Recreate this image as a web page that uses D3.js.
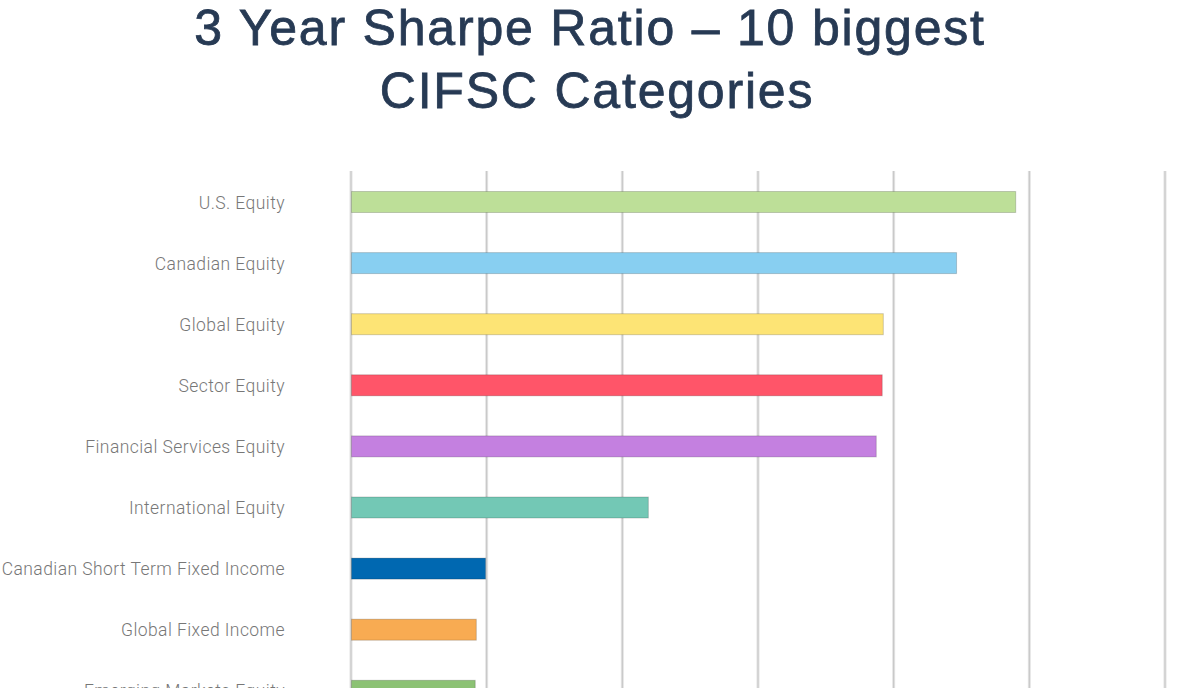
<!DOCTYPE html>
<html>
<head>
<meta charset="utf-8">
<script src="https://cdn.jsdelivr.net/npm/d3@7"></script>
<style>
  html, body { margin: 0; padding: 0; background: #fff; overflow: hidden; }
</style>
</head>
<body>
<div id="chart"></div>
<script>
var titleLines = ["3 Year Sharpe Ratio \u2013 10 biggest", "CIFSC Categories"];
var categories = ["U.S. Equity", "Canadian Equity", "Global Equity", "Sector Equity",
    "Financial Services Equity", "International Equity", "Canadian Short Term Fixed Income",
    "Global Fixed Income", "Emerging Markets Equity"];
var sharpeValues = [1.224, 1.115, 0.980, 0.978, 0.967, 0.547, 0.247, 0.230, 0.228];
var barColors = ["#bddf98", "#88cff1", "#fde475", "#ff5569", "#c480e0", "#73c8b5",
    "#0068b1", "#f8ab52", "#8cc274"];
var xTicks = [0, 0.25, 0.5, 0.75, 1, 1.25, 1.5];

var w = 1183;
var h = 760;

var svg = d3.select("#chart")
    .append("svg")
    .attr("width", w)
    .attr("height", h);

// title (second line sits a little right of centre in the original)
svg.selectAll(".title")
    .data(titleLines)
    .enter()
    .append("text")
    .attr("class", "title")
    .text(function(d) { return d; })
    .attr("x", function(d, i) { return 590 + i * 7; })
    .attr("y", function(d, i) { return 45 + i * 63; })
    .attr("text-anchor", "middle")
    .attr("font-family", "'Liberation Sans', Arial, sans-serif")
    .attr("font-size", "50px")
    .attr("letter-spacing", "1.8px")
    .attr("fill", "#273a54")
    .attr("stroke", "#273a54")
    .attr("stroke-width", 0.8);

var step = 61.1;
var padInner = 1 - 21 / step;
var padOuter = 20 / step;
var plotTop = 171;

var x = d3.scaleLinear()
    .domain([0, 1.5])
    .range([351, 1165]);

var y = d3.scaleBand()
    .domain(categories)
    .range([plotTop, plotTop + step * (categories.length - padInner + 2 * padOuter)])
    .paddingInner(padInner)
    .paddingOuter(padOuter);

// grid lines
var grid = svg.append("g");
grid.selectAll(".gridBack")
    .data(xTicks)
    .enter()
    .append("line")
    .attr("x1", function(d) { return x(d); })
    .attr("x2", function(d) { return x(d); })
    .attr("y1", plotTop)
    .attr("y2", h)
    .attr("stroke", "#e4e4e4")
    .attr("stroke-width", 3);
grid.selectAll(".gridFront")
    .data(xTicks)
    .enter()
    .append("line")
    .attr("x1", function(d) { return x(d); })
    .attr("x2", function(d) { return x(d); })
    .attr("y1", plotTop)
    .attr("y2", h)
    .attr("stroke", "#c4c4c4")
    .attr("stroke-width", 1);

// bars
svg.selectAll(".bar")
    .data(sharpeValues)
    .enter()
    .append("rect")
    .attr("class", "bar")
    .attr("x", x(0) + 0.5)
    .attr("y", function(d, i) { return y(categories[i]) + 0.5; })
    .attr("width", function(d) { return x(d) - x(0); })
    .attr("height", y.bandwidth())
    .attr("fill", function(d, i) { return barColors[i]; })
    .attr("stroke", "rgba(0,0,0,0.18)")
    .attr("stroke-width", 1);

// category labels
svg.selectAll(".label")
    .data(categories)
    .enter()
    .append("text")
    .attr("class", "label")
    .text(function(d) { return d; })
    .attr("x", 285)
    .attr("y", function(d) { return y(d) + y.bandwidth() / 2 + 1; })
    .attr("dy", "0.35em")
    .attr("text-anchor", "end")
    .attr("font-family", "Roboto, 'Liberation Sans', sans-serif")
    .attr("font-weight", 300)
    .attr("font-size", "17.5px")
    .attr("letter-spacing", "0.43px")
    .attr("fill", "#777777");
</script>
</body>
</html>
